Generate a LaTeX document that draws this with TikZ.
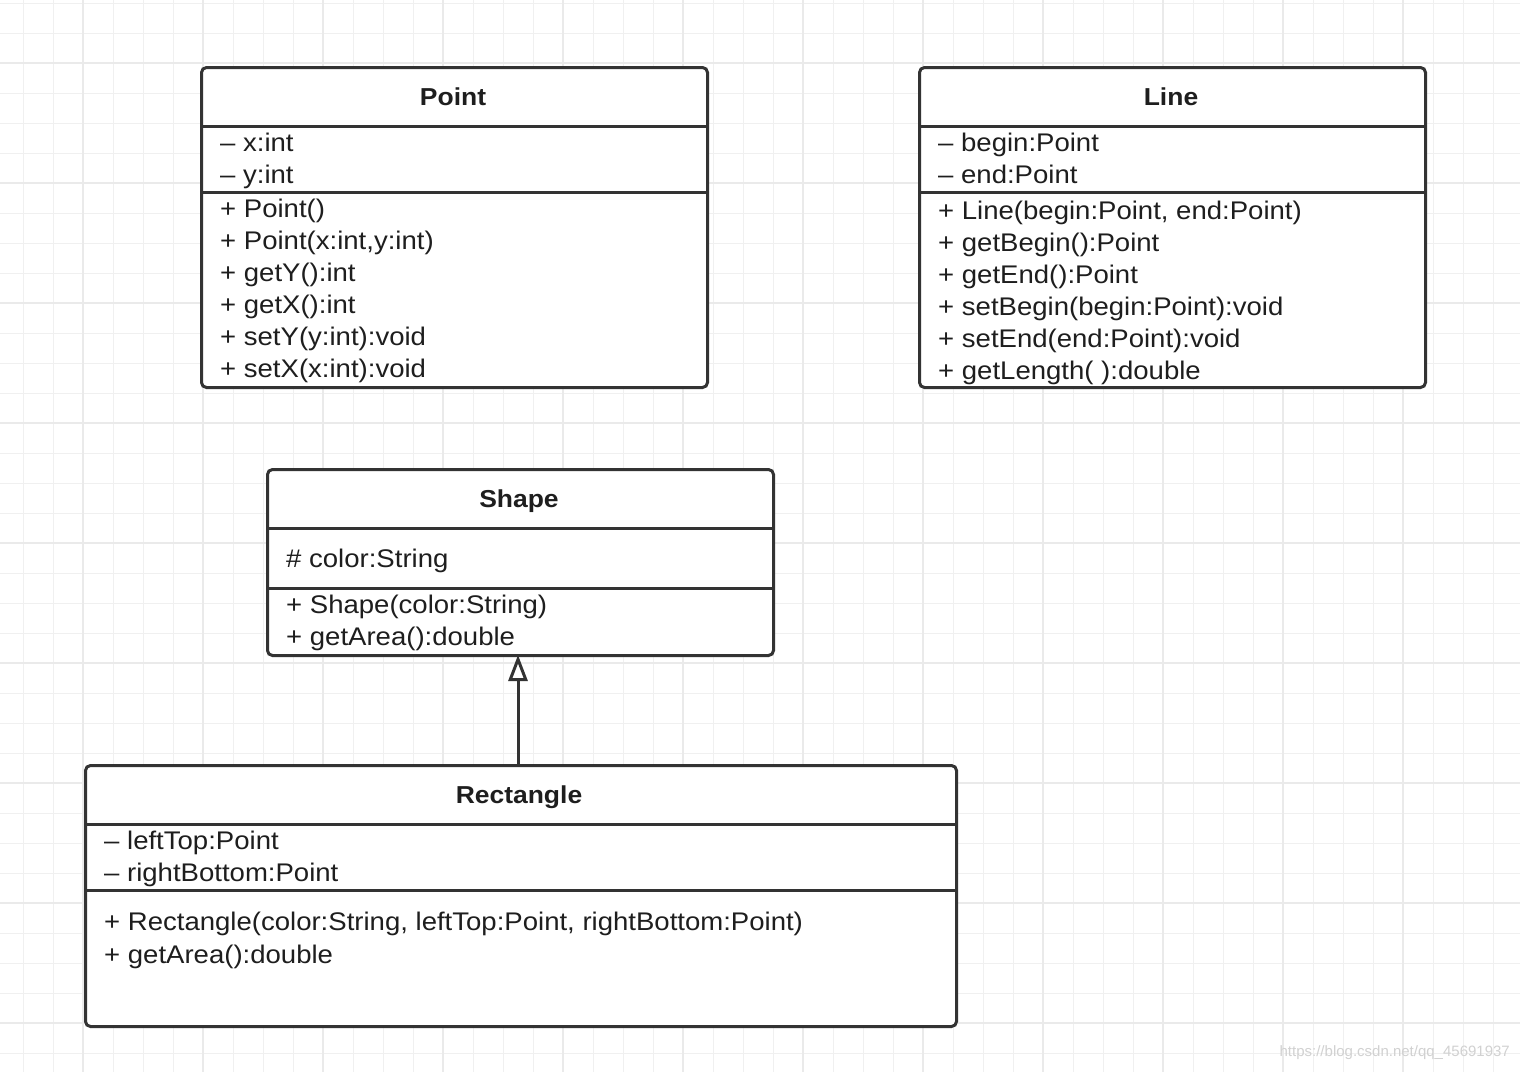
\documentclass[tikz,border=0pt]{standalone}
\usepackage{fontspec}
\setmainfont{Liberation Sans}[FakeStretch=1.08]
\newfontfamily\wmfont{Liberation Sans}
\usetikzlibrary{arrows.meta}
\definecolor{ink}{HTML}{333333}
\definecolor{txtc}{HTML}{1E1E1E}
\definecolor{gridc}{HTML}{F0F0F0}
\definecolor{gridd}{HTML}{EAEAEA}
\tikzset{
  classbox/.style={draw=ink, line width=3pt, rounded corners=5pt, fill=white, inner sep=0pt, anchor=north west},
  divider/.style={draw=ink, line width=3pt},
  member/.style={inner sep=0pt, anchor=west, text height=17pt, text depth=5pt, text=txtc, font=\fontsize{25.5}{30}\selectfont},
  title/.style={inner sep=0pt, text height=17pt, text depth=5pt, text=txtc, font=\fontsize{24.5}{30}\selectfont\bfseries},
  inherit/.style={draw=ink, line width=3pt, -{Triangle[length=26pt, width=19pt, fill=white, line width=3pt]}},
  gridthin/.style={draw=gridc, line width=1.5pt},
  gridthick/.style={draw=gridd, line width=2pt},
}
\begin{document}
\begin{tikzpicture}[x=1pt,y=-1pt]
\useasboundingbox[fill=white] (0,0) rectangle (1520,1072);
% grid
\foreach \i in {0,...,50} {
  \pgfmathsetmacro\gx{23.3+30*\i}
  \draw[gridthin] (\gx,0) -- (\gx,1072);
}
\foreach \i in {0,...,35} {
  \pgfmathsetmacro\gy{3.3+30*\i}
  \draw[gridthin] (0,\gy) -- (1520,\gy);
}
\foreach \i in {0,...,12} {
  \pgfmathsetmacro\gx{83.3+120*\i}
  \draw[gridthick] (\gx,0) -- (\gx,1072);
}
\foreach \i in {0,...,8} {
  \pgfmathsetmacro\gy{63.3+120*\i}
  \draw[gridthick] (0,\gy) -- (1520,\gy);
}

% Point
\node[classbox, minimum width=506pt, minimum height=320pt] (point) at (200,66) {};
\draw[divider] (200,126) -- (706,126);
\draw[divider] (200,192) -- (706,192);
\node[title] (pointT) at (453,99) {Point};
\node[member] (pa1) at (220,145) {– x:int};
\node[member] (pa2) at (220,177) {– y:int};
\node[member] (pm1) at (220,211) {+ Point()};
\node[member] (pm2) at (220,243) {+ Point(x:int,y:int)};
\node[member] (pm3) at (220,275) {+ getY():int};
\node[member] (pm4) at (220,307) {+ getX():int};
\node[member] (pm5) at (220,339) {+ setY(y:int):void};
\node[member] (pm6) at (220,371) {+ setX(x:int):void};

% Line
\node[classbox, minimum width=506pt, minimum height=320pt] (line) at (918,66) {};
\draw[divider] (918,126) -- (1424,126);
\draw[divider] (918,192) -- (1424,192);
\node[title] (lineT) at (1171,99) {Line};
\node[member] (la1) at (938,145) {– begin:Point};
\node[member] (la2) at (938,177) {– end:Point};
\node[member] (lm1) at (938,213) {+ Line(begin:Point, end:Point)};
\node[member] (lm2) at (938,245) {+ getBegin():Point};
\node[member] (lm3) at (938,277) {+ getEnd():Point};
\node[member] (lm4) at (938,309) {+ setBegin(begin:Point):void};
\node[member] (lm5) at (938,341) {+ setEnd(end:Point):void};
\node[member] (lm6) at (938,373) {+ getLength( ):double};

% Shape
\node[classbox, minimum width=506pt, minimum height=186pt] (shape) at (266,468) {};
\draw[divider] (266,528) -- (772,528);
\draw[divider] (266,588) -- (772,588);
\node[title] (shapeT) at (519,501) {Shape};
\node[member] (sa1) at (286,561) {\# color:String};
\node[member] (sm1) at (286,607) {+ Shape(color:String)};
\node[member] (sm2) at (286,639) {+ getArea():double};

% Rectangle
\node[classbox, minimum width=871pt, minimum height=261pt] (rect) at (84,764) {};
\draw[divider] (84,824) -- (955,824);
\draw[divider] (84,890) -- (955,890);
\node[title] (rectT) at (519,797) {Rectangle};
\node[member] (ra1) at (104,843) {– leftTop:Point};
\node[member] (ra2) at (104,875) {– rightBottom:Point};
\node[member] (rm1) at (104,924) {+ Rectangle(color:String, leftTop:Point, rightBottom:Point)};
\node[member] (rm2) at (104,957) {+ getArea():double};

% inheritance
\coordinate (rtop) at (518,764);
\coordinate (sbot) at (518,655);
\draw[inherit] (rtop) -- (sbot);

% watermark
\node[inner sep=0pt, anchor=east, text=black!18, font=\wmfont\fontsize{15}{18}\selectfont] (wm) at (1510,1053) {https://blog.csdn.net/qq\_45691937};
\end{tikzpicture}
\end{document}
